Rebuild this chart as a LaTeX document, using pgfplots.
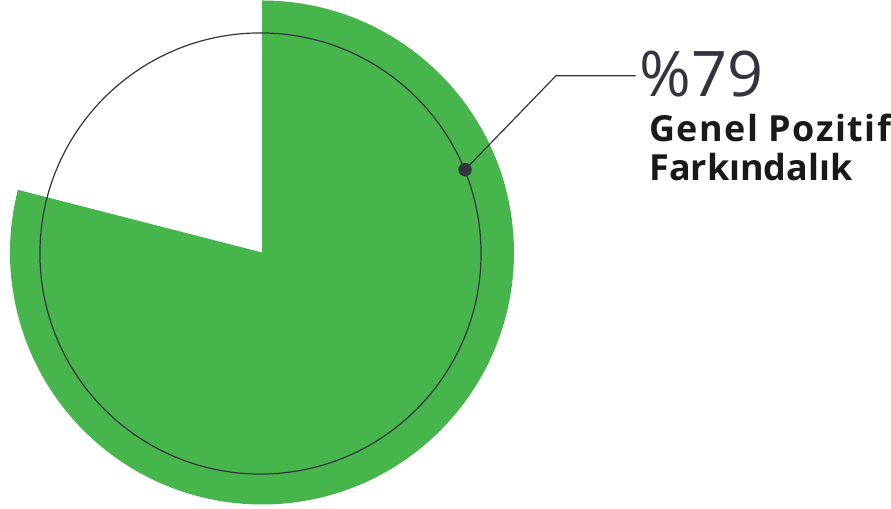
\documentclass[border=0pt]{standalone}
\usepackage{pgfplots}
\pgfplotsset{compat=1.18}
\usepackage{fontspec}
\setmainfont{Open Sans}
\definecolor{pgreen}{RGB}{70,181,76}
\definecolor{dark}{RGB}{52,52,64}
\begin{document}
\begin{tikzpicture}
\pgfmathsetmacro{\pct}{79}
\begin{axis}[
  x=1pt, y=1pt,
  xmin=-262.5, xmax=628.5, ymin=-257, ymax=253,
  hide axis, clip=false,
]
\path (rel axis cs:0,0) rectangle (rel axis cs:1,1);
\fill[pgreen] (axis cs:0,0) -- (axis cs:0,252.5) arc[start angle=90, end angle={90-3.6*\pct}, radius=252.5] -- cycle;
\draw[dark, line width=1.2pt] (axis cs:-1.5,-1) circle[radius=221];
\addplot[dark, line width=1.2pt, mark=none] coordinates {(203.5,83) (294.5,177) (374.5,177)};
\addplot[dark, only marks, mark=*, mark size=6.5pt] coordinates {(203.5,83)};
\node[anchor=base west, inner sep=0, text=dark] at (axis cs:378,156) {\fontsize{63}{63}\selectfont \%79};
\node[anchor=base west, inner sep=0, text=black!90] at (axis cs:388,111) {\fontsize{36}{36}\selectfont\bfseries\addfontfeatures{LetterSpace=4}Genel Pozitif};
\node[anchor=base west, inner sep=0, text=black!90] at (axis cs:388,72) {\fontsize{36}{36}\selectfont\bfseries Farkındalık};
\end{axis}
\end{tikzpicture}
\end{document}
